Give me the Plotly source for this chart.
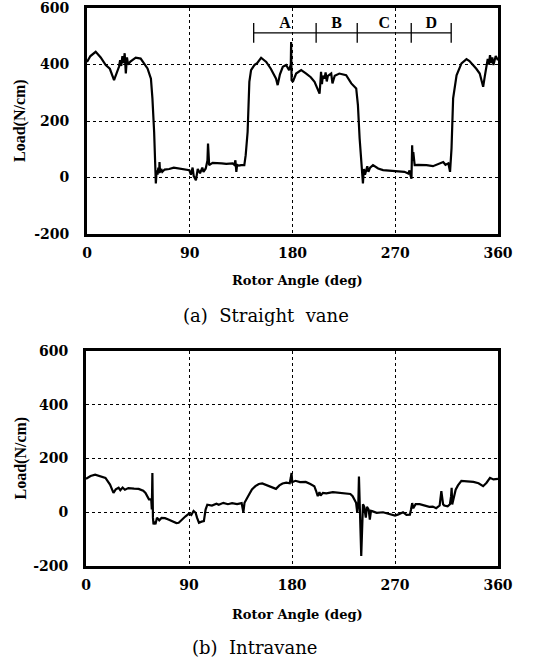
import plotly.graph_objects as go

# ---------------- data ----------------
# (a) Straight vane
angle_a = [0, 3, 7.6, 12, 16.4, 20, 23.7, 26, 28, 29, 30, 31, 32, 33, 34, 35, 36, 38, 42.7, 47,
           50, 53, 56, 57.3, 58.8, 59.7, 60.3, 61, 61.8, 62.5, 63.2, 63.5, 64, 65, 66, 68, 72, 76, 80.8, 85,
           89.6, 91, 92.5, 93.5, 95.4, 97, 99, 101, 102, 104, 105.5, 106, 106.5, 107, 110, 113, 118, 122, 127.5, 129,
           130, 130.8, 131.5, 133, 135, 137.8, 139, 140.7, 142.2, 143.7, 146.6, 149, 152.5, 157, 161, 165.6, 167, 169, 171.5, 174.4,
           177, 178.5, 178.8, 179.2, 180.3, 183.2, 187.6, 192, 196, 199.3, 201, 203.7, 204.5, 205, 205.8, 206.5, 208, 209, 210, 211,
           213.9, 215, 217, 221, 227, 231.5, 235.8, 237.3, 238.8, 240.3, 241.7, 242.5, 243.5, 244.6, 245.5, 246.5, 248, 250.5, 255, 259.3,
           265, 270, 274, 278, 281.4, 282.5, 283.5, 284.2, 284.8, 285.2, 285.8, 287, 290, 297.4, 303, 308, 312, 314, 316.5, 318,
           319.3, 320.7, 323.7, 328, 332.4, 335, 338.2, 341, 344, 347, 348.5, 350, 351, 352, 353, 354, 355, 356, 358, 360]
load_a = [409, 430, 445, 425, 398, 385, 345, 370, 392, 415, 395, 430, 405, 440, 368, 425, 400, 410, 424, 421,
          405, 386, 350, 280, 162, 20, -21, 25, 10, 35, 15, 55, 18, 30, 20, 28, 30, 35, 32, 28,
          26, 10, 35, 5, -10, 30, 15, 35, 20, 32, 60, 120, 50, 44, 52, 52, 50, 48, 50, 45,
          61, 20, 45, 42, 44, 44, 79, 162, 339, 380, 398, 405, 424, 409, 385, 350, 327, 365, 392, 398,
          380, 400, 480, 345, 339, 368, 380, 368, 355, 339, 320, 297, 340, 374, 330, 360, 350, 372, 340, 360,
          368, 333, 360, 368, 362, 333, 315, 256, 138, 55, -21, 30, 10, 26, 40, 20, 35, 44, 32, 26,
          25, 22, 22, 20, 14, 25, 5, -4, 114, 60, 90, 44, 45, 44, 40, 48, 55, 45, 50, 20,
          103, 280, 362, 404, 419, 412, 398, 385, 368, 321, 360, 398, 420, 400, 433, 405, 425, 398, 430, 415]

# (b) Intravane
angle_b = [0, 4, 8, 12, 17, 21, 24, 26, 28.5, 30, 32, 34, 37, 42, 46, 50, 52, 55, 57, 57.5,
           58, 58.5, 59, 60, 60.7, 62, 64, 66, 69, 72, 76, 79, 81, 84, 87, 90, 92, 94, 95.8, 97,
           98.7, 101, 103, 104.5, 106, 110, 114, 116, 120, 124, 127.6, 132, 136, 137.5, 138.5, 142.5, 145, 148, 151, 154,
           158, 162, 166, 169, 171.7, 175, 178, 179, 179.6, 180.2, 183, 187, 192, 196, 199.5, 201, 202.5, 204, 205, 207,
           210, 215.7, 220, 227, 231, 233, 235, 236, 237, 238, 238.5, 239, 239.8, 240.5, 241.2, 242, 243, 244.5, 245.5, 247,
           248, 249, 250, 254, 259.5, 265, 270, 273, 277, 280, 283, 284, 285, 286, 288, 291.5, 295, 300, 303, 306,
           309, 310.5, 312, 313, 316, 318, 319, 319.5, 320, 322, 323, 325, 328, 333, 338.5, 343, 347, 350, 353, 356, 360]
load_b = [124, 135, 140, 135, 128, 103, 72, 85, 91, 82, 92, 84, 90, 88, 87, 80, 72, 48, 48, 10,
          146, -20, -45, -35, -45, -20, -30, -21, -22, -27, -35, -40, -39, -25, -15, -5, -10, 5, -2, -20,
          -39, -35, -33, 10, 28, 25, 32, 28, 35, 30, 34, 30, 34, 0, 35, 66, 85, 97, 105, 107,
          100, 95, 87, 100, 107, 110, 108, 130, 146, 112, 117, 112, 113, 105, 97, 80, 60, 75, 62, 72,
          70, 75, 73, 72, 68, 60, 45, 35, 0, 40, 133, 10, -60, -163, -40, 30, 22, -20, 20, 10,
          -27, 5, 4, -2, 0, -5, -12, -8, 0, -10, -9, 10, 34, 15, 30, 30, 25, 20, 21, 15,
          25, 79, 30, 25, 22, 30, 60, 91, 29, 60, 84, 100, 117, 115, 113, 108, 97, 110, 128, 122, 124]

# region markers A-D on panel (a)
region_bounds = [146, 200.7, 236.7, 284, 319]
region_level = 512
region_labels = ["A", "B", "C", "D"]

x_ticks = [0, 90, 180, 270, 360]
y_ticks = [-200, 0, 200, 400, 600]
y_tick_text = ["-200", "0", "200", "400", "600"]

# ---------------- figure ----------------
W, H = 545, 666


def px(xp):
    return xp / W


def py(yp):
    return 1 - yp / H


fig = go.Figure()

line_style = dict(color="black", width=2.2)
fig.add_trace(go.Scatter(x=angle_a, y=load_a, mode="lines", line=line_style,
                         xaxis="x", yaxis="y", showlegend=False))
fig.add_trace(go.Scatter(x=angle_b, y=load_b, mode="lines", line=line_style,
                         xaxis="x2", yaxis="y2", showlegend=False))

# A-D bracket
fig.add_trace(go.Scatter(x=[region_bounds[0], region_bounds[-1]], y=[region_level] * 2,
                         mode="lines", line=dict(color="black", width=1.3),
                         xaxis="x", yaxis="y", showlegend=False))
fig.add_trace(go.Scatter(x=region_bounds, y=[region_level] * len(region_bounds),
                         mode="markers",
                         marker=dict(symbol="line-ns", size=14,
                                     line=dict(color="black", width=1.3)),
                         xaxis="x", yaxis="y", showlegend=False))
mids = [(region_bounds[i] + region_bounds[i + 1]) / 2 for i in range(len(region_labels))]
fig.add_trace(go.Scatter(x=mids, y=[region_level + 32] * len(mids), mode="text",
                         text=region_labels,
                         textfont=dict(family="Liberation Serif", size=16, color="black", weight="bold"),
                         xaxis="x", yaxis="y", showlegend=False))

tickfont = dict(family="DejaVu Serif", size=14, color="black", weight="bold")
common_x = dict(range=[0, 360], tickvals=x_ticks, showgrid=True, gridcolor="black",
                griddash="dot", gridwidth=1.3, showline=True, linewidth=3, linecolor="black",
                mirror=True, zeroline=False, ticks="outside", ticklen=4, tickcolor="rgba(0,0,0,0)",
                tickfont=tickfont, fixedrange=True, automargin=False, ticklabeloverflow="allow")
common_y = dict(range=[-200, 600], tickvals=y_ticks, ticktext=y_tick_text, showgrid=True,
                gridcolor="black", griddash="dot", gridwidth=1.3, showline=True, linewidth=3,
                linecolor="black", mirror=True, zeroline=False, ticks="outside", ticklen=12,
                tickcolor="rgba(0,0,0,0)", tickfont=tickfont, fixedrange=True, automargin=False,
                ticklabeloverflow="allow")

fig.update_layout(
    width=W, height=H,
    margin=dict(l=0, r=0, t=0, b=0, pad=0, autoexpand=False),
    paper_bgcolor="white", plot_bgcolor="white",
    xaxis=dict(domain=[px(87), px(498)], anchor="y", **common_x),
    yaxis=dict(domain=[py(234), py(8)], anchor="x", **common_y),
    xaxis2=dict(domain=[px(86), px(498)], anchor="y2", **common_x),
    yaxis2=dict(domain=[py(566), py(351)], anchor="x2", **common_y),
)

title_font = dict(family="Liberation Serif", size=16, color="black", weight="bold")
xt_font = dict(family="DejaVu Serif", size=13, color="black", weight="bold")
cap_font = dict(family="DejaVu Serif", size=18, color="black")
ann = []
for yc_plot, yc_xt, yc_cap, xc_cap, cap in [((8 + 234) / 2, 280, 315, 266, "(a)  Straight  vane"),
                                              ((351 + 566) / 2, 614, 647, 254, "(b)  Intravane")]:
    ann.append(dict(text="Load(N/cm)", x=px(20), y=py(yc_plot), xref="paper", yref="paper",
                    textangle=-90, showarrow=False, font=title_font, xanchor="center", yanchor="middle"))
    ann.append(dict(text="Rotor Angle (deg)", x=px(297), y=py(yc_xt), xref="paper", yref="paper",
                    showarrow=False, font=xt_font, xanchor="center", yanchor="middle"))
    ann.append(dict(text=cap, x=px(xc_cap), y=py(yc_cap), xref="paper", yref="paper",
                    showarrow=False, font=cap_font, xanchor="center", yanchor="middle"))
fig.update_layout(annotations=ann)

# remove the browser's default 8px body margin so the figure sits at the page origin
fig.write_html("out.html", config={"displayModeBar": False},
               post_script="document.body.style.margin='0px';")
